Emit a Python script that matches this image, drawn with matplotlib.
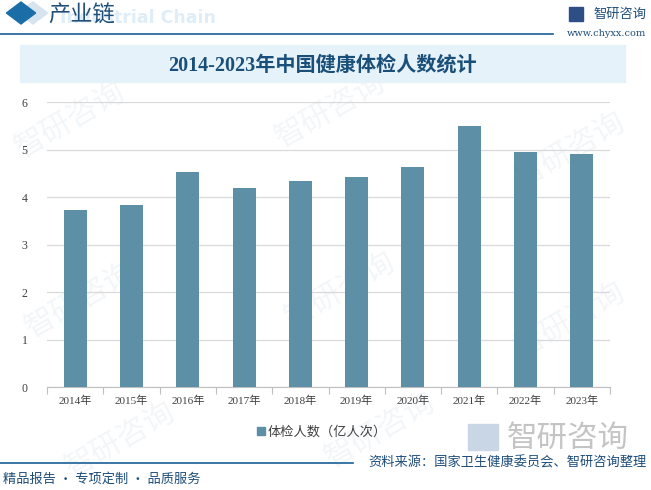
import matplotlib.pyplot as plt
import matplotlib.patches as mpatches
import numpy as np

plt.rcParams['font.family'] = ['Noto Sans CJK SC', 'DejaVu Sans']

years = ['2014年', '2015年', '2016年', '2017年', '2018年',
         '2019年', '2020年', '2021年', '2022年', '2023年']
checkups = [3.73, 3.83, 4.53, 4.19, 4.34, 4.42, 4.63, 5.49, 4.95, 4.91]
series_name = '体检人数（亿人次）'
y_ticks = [0, 1, 2, 3, 4, 5, 6]

W, H = 651, 490
fig = plt.figure(figsize=(W / 100, H / 100), dpi=100)

def px(x, y):
    # pixel coords (top-left origin) -> figure fraction
    return x / W, 1 - y / H

# faint watermarks, behind everything
for wx, wy in [(70, 120), (330, 110), (570, 150), (80, 300), (340, 290),
               (570, 320), (120, 440), (380, 430)]:
    fx, fy = px(wx, wy)
    fig.text(fx, fy, '智研咨询', fontsize=22, color='#f3f6f9', rotation=30,
             ha='center', va='center', zorder=0)

# header
fig.patches.append(mpatches.RegularPolygon(px(33, 13), 4, radius=11 / H,
                   transform=fig.transFigure, color='#d6e4ef', zorder=1))
fig.patches.append(mpatches.RegularPolygon(px(21, 13), 4, radius=11 / H,
                   transform=fig.transFigure, color='#1a6ea8', zorder=1))
fx, fy = px(60, 18)
fig.text(fx, fy, 'Industrial Chain', fontsize=12.5, color='#deedf8',
         weight='bold', ha='left', va='center', family='DejaVu Sans', zorder=1)
fx, fy = px(48, 15)
fig.text(fx, fy, '产业链', fontsize=16, color='#1f4e79', ha='left',
         va='center', zorder=2, family='Noto Sans CJK SC')
fig.add_artist(plt.Line2D([0, 553 / W], [1 - 34 / H] * 2, color='#1a5f96',
                          lw=1.2, transform=fig.transFigure))
fx, fy = px(593, 14)
fig.text(fx, fy, '智研咨询', fontsize=9.5, color='#1f4e79', ha='left', va='center')
fig.patches.append(mpatches.Rectangle(px(569, 21), 14 / W, 14 / H,
                   transform=fig.transFigure, color='#2d4f86'))
fx, fy = px(606, 34)
fig.text(fx, fy, 'www.chyxx.com', fontsize=7, color='#1f4e79',
         ha='center', va='center', family='DejaVu Serif')

# title banner
fig.patches.append(mpatches.Rectangle(px(20, 82), 605 / W, 37 / H,
                   transform=fig.transFigure, color='#e6f2fa', zorder=1))
fx, fy = px(322, 66)
fig.text(fx, fy, '2014-2023年中国健康体检人数统计', fontsize=14.5, weight='bold',
         color='#1a4f7a', ha='center', va='center', zorder=2,
         family=['Liberation Serif', 'Noto Sans CJK SC'])

# chart
x0, x1, y0, y1 = 47, 610, 102, 387
ax = fig.add_axes([x0 / W, 1 - y1 / H, (x1 - x0) / W, (y1 - y0) / H], zorder=2)
ax.patch.set_alpha(0)
x = np.arange(len(years))
ax.bar(x, checkups, width=0.41, color='#5d8fa7', zorder=3, label=series_name)
ax.set_xlim(-0.5, len(years) - 0.5)
ax.set_ylim(0, 6)
ax.set_yticks(y_ticks)
ax.set_yticklabels([str(t) for t in y_ticks], fontsize=8.5, color='#404040',
                   family='Liberation Serif')
ax.set_xticks(x)
ax.set_xticklabels(years, fontsize=8, color='#404040',
                   family=['Liberation Serif', 'Noto Sans CJK SC'])
ax.tick_params(axis='y', length=0, pad=14)
ax.tick_params(axis='x', length=0, pad=6)
ax.set_xticks(np.arange(-0.5, len(years)), minor=True)
ax.tick_params(axis='x', which='minor', length=5, color='#bfbfbf', width=0.8)
ax.grid(axis='y', color='#d9d9d9', lw=0.9, zorder=0)
for s in ['top', 'right', 'left']:
    ax.spines[s].set_visible(False)
ax.spines['bottom'].set_color('#bfbfbf')

# legend
fx, fy = px(322, 432)
fig.legend(handles=[mpatches.Patch(color='#5d8fa7', label=series_name)],
           loc='center', bbox_to_anchor=(fx, fy), frameon=False,
           fontsize=9.5, handlelength=0.6, handleheight=0.6,
           handletextpad=0.2, labelcolor='#404040')

# footer
fx, fy = px(507, 438)
fig.text(fx, fy, '智研咨询', fontsize=22, color='#c4c4c4', ha='left',
         va='center')
fig.patches.append(mpatches.Rectangle(px(468, 450), 30 / W, 26 / H,
                   transform=fig.transFigure, color='#c9d6e6'))
fig.add_artist(plt.Line2D([0, 353 / W], [1 - 463 / H] * 2, color='#1a5f96',
                          lw=1.2, transform=fig.transFigure))
fx, fy = px(647, 463)
fig.text(fx, fy, '资料来源：国家卫生健康委员会、智研咨询整理', fontsize=9.5,
         color='#1f4e79', ha='right', va='center')
fx, fy = px(3, 479)
fig.text(fx, fy, '精品报告 · 专项定制 · 品质服务', fontsize=9.5,
         color='#1f4e79', ha='left', va='center')

fig.savefig('out.png', dpi=100)
